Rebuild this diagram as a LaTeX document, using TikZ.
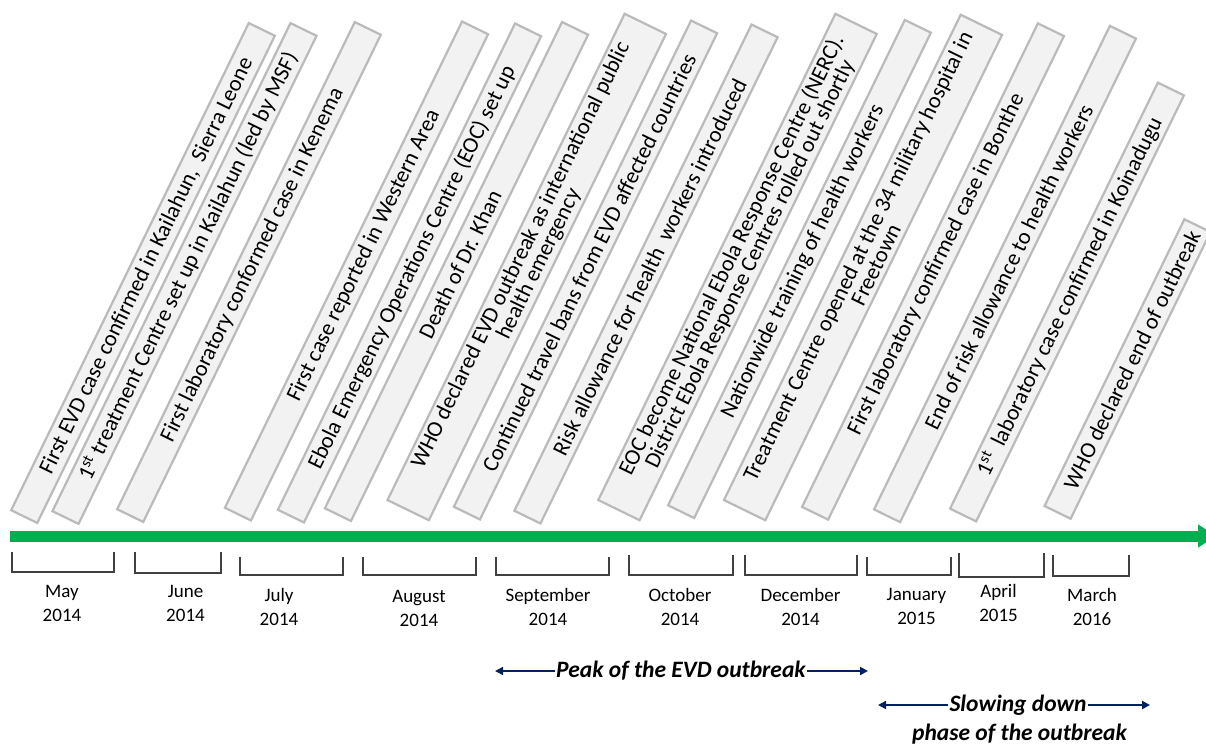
\documentclass[tikz,border=0pt]{standalone}
\usepackage{fontspec}
\setmainfont{Carlito}
\usetikzlibrary{arrows.meta}
\definecolor{tlgreen}{RGB}{0,176,80}
\definecolor{boxfill}{RGB}{242,242,242}
\definecolor{boxline}{RGB}{186,186,186}
\definecolor{navyc}{RGB}{0,32,96}
\definecolor{brk}{RGB}{64,64,64}
\begin{document}
\begin{tikzpicture}[x=1pt,y=1pt,
  evbox/.style={draw=boxline, fill=boxfill, line width=2.2pt, rotate=64, inner sep=0pt, minimum height=29pt},
  evboxtwo/.style={evbox, minimum height=46pt},
  evtext/.style={rotate=64, inner sep=0pt, align=center, font=\fontsize{22.5}{20}\selectfont, text=black},
  month/.style={align=center, font=\fontsize{19}{24}\selectfont, inner sep=0pt, text=black},
  bracket/.style={draw=brk, line width=1.3pt},
  phasetxt/.style={font=\fontsize{23.5}{28}\selectfont\bfseries\itshape, inner sep=1pt, text=black},
  navyarrow/.style={draw=navyc, -{Triangle[length=8pt,width=8pt]}}
]
\useasboundingbox (0,0) rectangle (1206,745);

% timeline
\coordinate (tl0) at (10,209);
\coordinate (tl1) at (1216,209);
\draw[tlgreen, line width=11pt, -{Triangle[length=18pt,width=22pt]}] (tl0) -- (tl1);

% event boxes
\node[evbox, minimum width=542pt] (b1) at (143,472) {};
\node[evtext] (t1) at ([shift={(64:8)}]b1.center) {First EVD case confirmed in Kailahun,\ \ Sierra Leone};

\node[evbox, minimum width=543pt] (b2) at (184.5,471.5) {};
\node[evtext] (t2) at ([shift={(64:8)}]b2.center) {1\textsuperscript{st} treatment Centre set up in Kailahun (led by MSF)};

\node[evbox, minimum width=542pt] (b3) at (249,473) {};
\node[evtext] (t3) at ([shift={(64:8)}]b3.center) {First laboratory conformed case in Kenema};

\node[evbox, minimum width=541pt] (b4) at (356.5,474) {};
\node[evtext] (t4) at ([shift={(64:17)}]b4.center) {First case reported in Western Area};

\node[evbox, minimum width=541pt] (b5) at (409.5,472) {};
\node[evtext] (t5) at ([shift={(64:6)}]b5.center) {Ebola Emergency Operations Centre (EOC) set up};

\node[evbox, minimum width=541pt] (b6) at (456.5,473.5) {};
\node[evtext] (t6) at ([shift={(64:8)}]b6.center) {Death of Dr. Khan};

\node[evboxtwo, minimum width=541pt] (b7) at (526.75,478) {};
\node[evtext] (t7) at ([shift={(64:8)}]b7.center) {WHO declared EVD outbreak as international public\\health emergency};

\node[evbox, minimum width=541pt] (b8) at (585.5,475) {};
\node[evtext] (t8) at ([shift={(64:8)}]b8.center) {Continued travel bans from EVD affected countries};

\node[evbox, minimum width=541pt] (b9) at (646,471) {};
\node[evtext] (t9) at ([shift={(64:8)}]b9.center) {Risk allowance for health\ \ workers introduced};

\node[evboxtwo, minimum width=541pt] (b10) at (737.5,478) {};
\node[evtext] (t10) at ([shift={(64:8)}]b10.center) {EOC become National Ebola Response Centre (NERC).\\District Ebola Response Centres rolled out shortly};

\node[evbox, minimum width=540pt] (b11) at (799.5,476) {};
\node[evtext] (t11) at ([shift={(64:8)}]b11.center) {Nationwide training of health workers};

\node[evboxtwo, minimum width=540pt] (b12) at (863,477.5) {};
\node[evtext] (t12) at ([shift={(64:8)}]b12.center) {Treatment Centre opened at the 34 military hospital in\\Freetown};

\node[evbox, minimum width=538pt] (b13) at (933,473.5) {};
\node[evtext] (t13) at ([shift={(64:8)}]b13.center) {First laboratory confirmed case in Bonthe};

\node[evbox, minimum width=538pt] (b14) at (1005,471) {};
\node[evtext] (t14) at ([shift={(64:8)}]b14.center) {End of risk allowance to health workers};

\node[evbox, minimum width=474pt] (b15) at (1067,443) {};
\node[evtext] (t15) at ([shift={(64:6)}]b15.center) {1\textsuperscript{st}\ \ laboratory case confirmed in Koinadugu};

\node[evbox, minimum width=319pt] (b16) at (1127.5,376) {};
\node[evtext] (t16) at ([shift={(64:10)}]b16.center) {WHO declared end of outbreak};

% month brackets
\draw[bracket] (12,193) -- (12,173) -- (114,173) -- (114,193);
\draw[bracket] (135,193) -- (135,172) -- (221,172) -- (221,193);
\draw[bracket] (240,188) -- (240,170) -- (343,170) -- (343,188);
\draw[bracket] (363,188) -- (363,170) -- (476,170) -- (476,188);
\draw[bracket] (496,188) -- (496,170) -- (609,170) -- (609,188);
\draw[bracket] (629,190) -- (629,170) -- (733,170) -- (733,190);
\draw[bracket] (745,190) -- (745,170) -- (857,170) -- (857,190);
\draw[bracket] (867,188) -- (867,170) -- (951,170) -- (951,188);
\draw[bracket] (959,192) -- (959,168) -- (1044,168) -- (1044,192);
\draw[bracket] (1053,190) -- (1053,169) -- (1129,169) -- (1129,190);

% month labels
\node[month] (m1) at (62,141.3) {May\\2014};
\node[month] (m2) at (185.5,141.5) {June\\2014};
\node[month] (m3) at (279,137.8) {July\\2014};
\node[month] (m4) at (419,137) {August\\2014};
\node[month] (m5) at (548,138) {September\\2014};
\node[month] (m6) at (680,138) {October\\2014};
\node[month] (m7) at (800.5,138) {December\\2014};
\node[month] (m8) at (916.5,139) {January\\2015};
\node[month] (m9) at (998.5,142) {April\\2015};
\node[month] (m10) at (1092,138.5) {March\\2016};

% phases
\node[phasetxt] (peak) at (681,74) {Peak of the EVD outbreak};
\coordinate (pkL) at (495,74);
\coordinate (pkR) at (868,74);
\draw[navyarrow, line width=1.5pt] (peak.west) -- (pkL);
\draw[navyarrow, line width=2.5pt] (peak.east) -- (pkR);

\node[phasetxt] (slow) at (1018,40) {Slowing down};
\coordinate (slL) at (878,40);
\coordinate (slR) at (1150,40);
\draw[navyarrow, line width=1.5pt] (slow.west) -- (slL);
\draw[navyarrow, line width=2.5pt] (slow.east) -- (slR);
\node[phasetxt] (phs) at (1019.5,11) {phase of the outbreak};
\end{tikzpicture}
\end{document}
